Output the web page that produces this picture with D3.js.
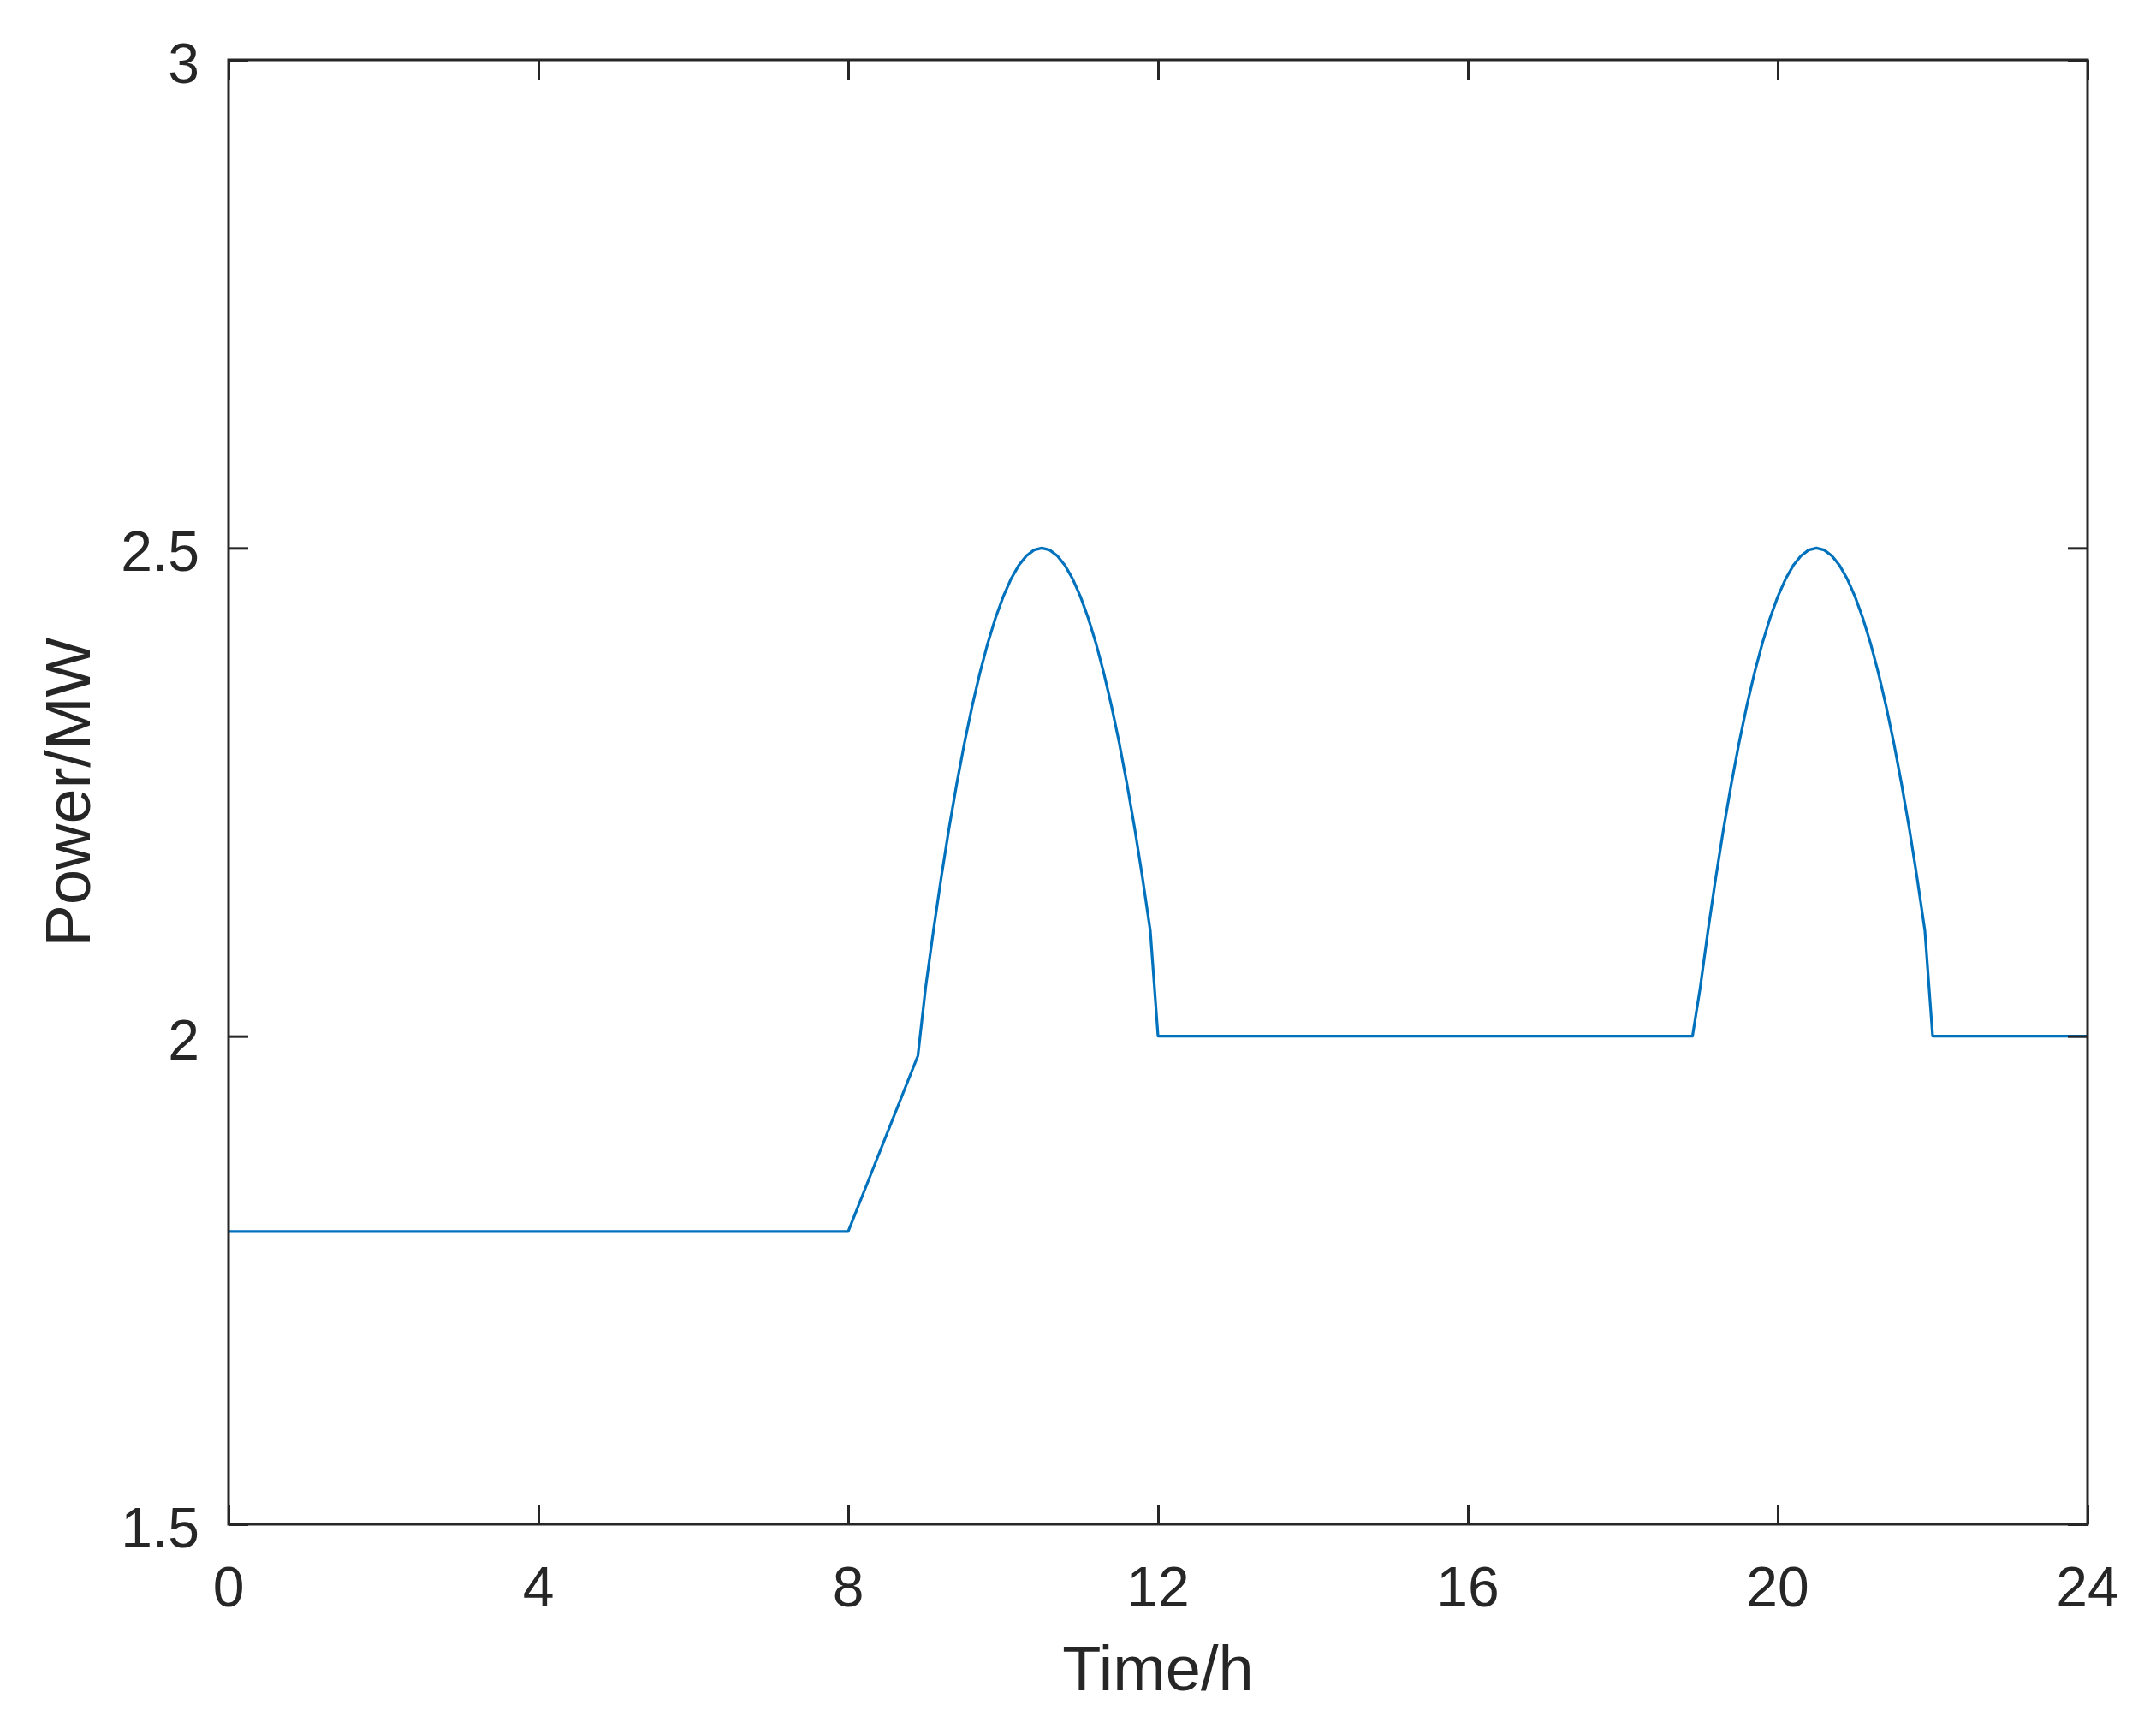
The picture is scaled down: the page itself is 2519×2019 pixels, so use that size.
<!DOCTYPE html>
<html>
<head>
<meta charset="utf-8">
<script src="https://cdn.jsdelivr.net/npm/d3@7"></script>
<style>
  html, body { margin: 0; padding: 0; background: #ffffff; }
  svg { display: block; }
  text { font-family: "Liberation Sans", Arial, Helvetica, sans-serif; fill: #262626; }
</style>
</head>
<body>
<script>
// ---- data ----
const timeH = [
  0, 8, 8.9,
  9.0, 9.1, 9.2, 9.3, 9.4, 9.5, 9.6, 9.7, 9.8, 9.9,
  10.0, 10.1, 10.2, 10.3, 10.4, 10.5, 10.6, 10.7, 10.8, 10.9,
  11.0, 11.1, 11.2, 11.3, 11.4, 11.5, 11.6, 11.7, 11.8, 11.9,
  12.0, 18.9,
  19.0, 19.1, 19.2, 19.3, 19.4, 19.5, 19.6, 19.7, 19.8, 19.9,
  20.0, 20.1, 20.2, 20.3, 20.4, 20.5, 20.6, 20.7, 20.8, 20.9,
  21.0, 21.1, 21.2, 21.3, 21.4, 21.5, 21.6, 21.7, 21.8, 21.9,
  22.0, 24
];
const powerMW = [
  1.8, 1.8, 1.98,
  2.05, 2.108, 2.162, 2.212, 2.258, 2.30, 2.338, 2.372, 2.402, 2.428,
  2.45, 2.468, 2.482, 2.492, 2.498, 2.5, 2.498, 2.492, 2.482, 2.468,
  2.45, 2.428, 2.402, 2.372, 2.338, 2.30, 2.258, 2.212, 2.162, 2.108,
  2.0, 2.0,
  2.05, 2.108, 2.162, 2.212, 2.258, 2.30, 2.338, 2.372, 2.402, 2.428,
  2.45, 2.468, 2.482, 2.492, 2.498, 2.5, 2.498, 2.492, 2.482, 2.468,
  2.45, 2.428, 2.402, 2.372, 2.338, 2.30, 2.258, 2.212, 2.162, 2.108,
  2.0, 2.0
];
const xTicks = [0, 4, 8, 12, 16, 20, 24];
const xTickLabels = ["0", "4", "8", "12", "16", "20", "24"];
const yTicks = [1.5, 2, 2.5, 3];
const yTickLabels = ["1.5", "2", "2.5", "3"];
const xLabel = "Time/h";
const yLabel = "Power/MW";

// ---- layout ----
const W = 2519, H = 2019;
const mLeft = 267, mRight = 2439, mTop = 70, mBottom = 1781;
const tickLen = 23;
const ink = "#262626";

const svg = d3.select("body").append("svg")
  .attr("width", W).attr("height", H);

const x = d3.scaleLinear().domain([0, 24]).range([mLeft, mRight]);
const y = d3.scaleLinear().domain([1.5, 3]).range([mBottom, mTop]);

// data line
const line = d3.line().x((d, i) => x(timeH[i])).y((d, i) => y(powerMW[i]));
svg.append("path")
  .datum(powerMW)
  .attr("d", line)
  .attr("fill", "none")
  .attr("stroke", "#0072BD")
  .attr("stroke-width", 3.2)
  .attr("stroke-linejoin", "round");

// axes (ticks inward, on all four sides)
function styleAxis(g) {
  g.select(".domain").remove();
  g.selectAll(".tick line").attr("stroke", ink).attr("stroke-width", 3);
  g.selectAll(".tick text").remove();
}
svg.append("g").attr("transform", `translate(0,${mBottom})`)
  .call(d3.axisBottom(x).tickValues(xTicks).tickSizeInner(-tickLen).tickSizeOuter(0)).call(styleAxis);
svg.append("g").attr("transform", `translate(0,${mTop})`)
  .call(d3.axisTop(x).tickValues(xTicks).tickSizeInner(-tickLen).tickSizeOuter(0)).call(styleAxis);
svg.append("g").attr("transform", `translate(${mLeft},0)`)
  .call(d3.axisLeft(y).tickValues(yTicks).tickSizeInner(-tickLen).tickSizeOuter(0)).call(styleAxis);
svg.append("g").attr("transform", `translate(${mRight},0)`)
  .call(d3.axisRight(y).tickValues(yTicks).tickSizeInner(-tickLen).tickSizeOuter(0)).call(styleAxis);

// frame
svg.append("rect")
  .attr("x", mLeft).attr("y", mTop)
  .attr("width", mRight - mLeft).attr("height", mBottom - mTop)
  .attr("fill", "none").attr("stroke", ink).attr("stroke-width", 3);

// tick labels
svg.append("g").selectAll("text").data(xTicks).join("text")
  .attr("x", d => x(d)).attr("y", mBottom + 96)
  .attr("text-anchor", "middle")
  .attr("font-size", 66)
  .text((d, i) => xTickLabels[i]);

svg.append("g").selectAll("text").data(yTicks).join("text")
  .attr("x", mLeft - 34).attr("y", d => y(d) + 27)
  .attr("text-anchor", "end")
  .attr("font-size", 66)
  .text((d, i) => yTickLabels[i]);

// axis labels
svg.append("text")
  .attr("x", (mLeft + mRight) / 2).attr("y", 1975)
  .attr("text-anchor", "middle")
  .attr("font-size", 74)
  .text(xLabel);

svg.append("text")
  .attr("transform", `translate(105,${(mTop + mBottom) / 2}) rotate(-90)`)
  .attr("text-anchor", "middle")
  .attr("font-size", 74)
  .text(yLabel);
</script>
</body>
</html>
